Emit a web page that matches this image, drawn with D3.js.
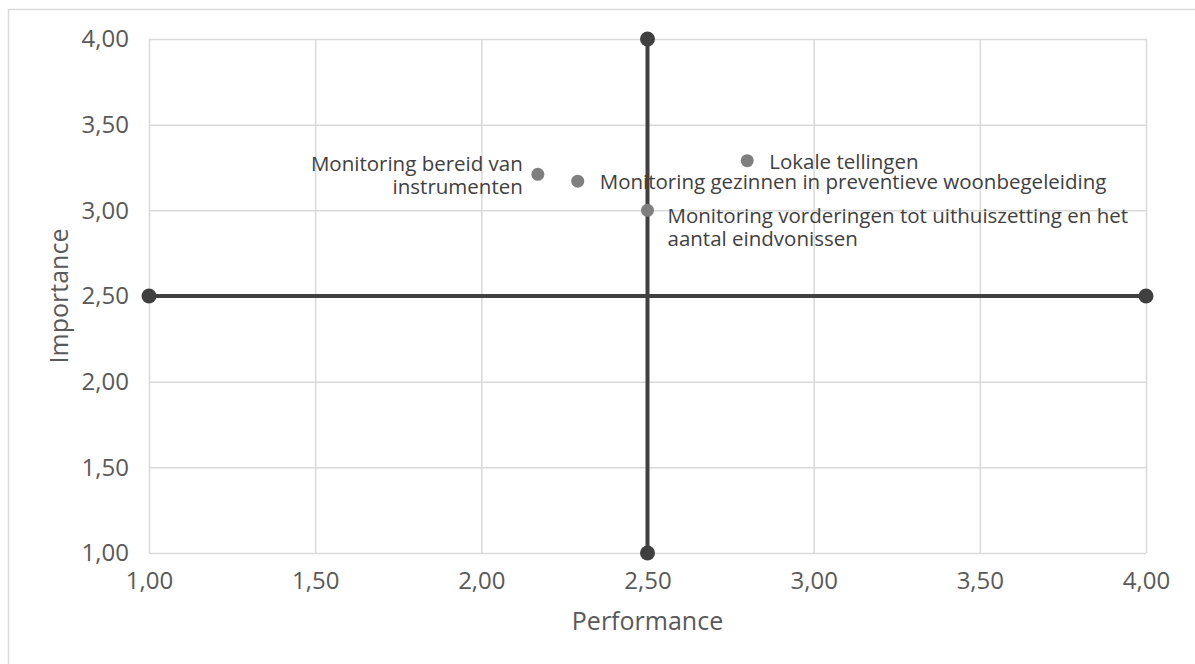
<!DOCTYPE html>
<html>
<head>
<meta charset="utf-8">
<script src="https://cdn.jsdelivr.net/npm/d3@7"></script>
<style>
  html, body { margin: 0; padding: 0; background: #fff; }
  svg { display: block; font-family: "Open Sans", "Noto Sans", sans-serif; }
</style>
</head>
<body>
<svg id="chart" width="1195" height="664"></svg>
<script>
// Performance / importance scores per monitoring item
const itemLabels = [
  ["Monitoring bereid van", "instrumenten"],
  ["Monitoring gezinnen in preventieve woonbegeleiding"],
  ["Monitoring vorderingen tot uithuiszetting en het", "aantal eindvonissen"],
  ["Lokale tellingen"]
];
const performance = [2.17, 2.29, 2.50, 2.80];
const importance  = [3.21, 3.17, 3.00, 3.29];
const labelSide   = ["left", "right", "belowRight", "right"];

// Quadrant divider values and axis ticks
const quadrantX = 2.5;
const quadrantY = 2.5;
const xTicks = [1.0, 1.5, 2.0, 2.5, 3.0, 3.5, 4.0];
const yTicks = [1.0, 1.5, 2.0, 2.5, 3.0, 3.5, 4.0];
const xTitle = "Performance";
const yTitle = "Importance";

const svg = d3.select("#chart");
const W = 1195, H = 664;
const margin = { left: 149, right: 49, top: 39, bottom: 111 };
const plotW = W - margin.left - margin.right;
const plotH = H - margin.top - margin.bottom;

const fmt = v => d3.format(".2f")(v).replace(".", ",");

const x = d3.scaleLinear().domain([1, 4]).range([0, plotW]);
const y = d3.scaleLinear().domain([1, 4]).range([plotH, 0]);

// outer chart frame
svg.append("rect")
  .attr("x", 8.5).attr("y", 9.5)
  .attr("width", W).attr("height", H)
  .attr("fill", "none").attr("stroke", "#d9d9d9").attr("stroke-width", 1.5);

const g = svg.append("g").attr("transform", `translate(${margin.left},${margin.top})`);

// gridlines
const gridColor = "#d9d9d9";
g.append("g")
  .attr("transform", `translate(0,${plotH})`)
  .call(d3.axisBottom(x).tickValues(xTicks).tickSize(-plotH).tickFormat(""))
  .call(a => a.select(".domain").remove())
  .call(a => a.selectAll("line").attr("stroke", gridColor).attr("stroke-width", 1.5));
g.append("g")
  .call(d3.axisLeft(y).tickValues(yTicks).tickSize(-plotW).tickFormat(""))
  .call(a => a.select(".domain").remove())
  .call(a => a.selectAll("line").attr("stroke", gridColor).attr("stroke-width", 1.5));

// tick labels
const tickColor = "#595959";
const xAxis = g.append("g")
  .attr("transform", `translate(0,${plotH})`)
  .call(d3.axisBottom(x).tickValues(xTicks).tickSize(0).tickPadding(19).tickFormat(fmt));
xAxis.select(".domain").remove();
xAxis.selectAll("text")
  .attr("fill", tickColor)
  .style("font-family", "'Open Sans', sans-serif")
  .style("font-size", "24px");

const yAxis = g.append("g")
  .call(d3.axisLeft(y).tickValues(yTicks).tickSize(0).tickPadding(20).tickFormat(fmt));
yAxis.select(".domain").remove();
yAxis.selectAll("text")
  .attr("fill", tickColor)
  .style("font-family", "'Open Sans', sans-serif")
  .style("font-size", "24px");

// axis titles
svg.append("text")
  .attr("x", margin.left + x(2.5)).attr("y", 630)
  .attr("text-anchor", "middle")
  .attr("fill", tickColor)
  .style("font-size", "25px")
  .text(xTitle);
svg.append("text")
  .attr("transform", `translate(68,${margin.top + y(2.5)}) rotate(-90)`)
  .attr("text-anchor", "middle")
  .attr("fill", tickColor)
  .style("font-size", "25px")
  .text(yTitle);

// quadrant dividers with end markers
const divColor = "#404040";
const dividers = [
  [[quadrantX, 1], [quadrantX, 4]],
  [[1, quadrantY], [4, quadrantY]]
];
dividers.forEach(seg => {
  g.append("line")
    .attr("x1", x(seg[0][0])).attr("y1", y(seg[0][1]))
    .attr("x2", x(seg[1][0])).attr("y2", y(seg[1][1]))
    .attr("stroke", divColor).attr("stroke-width", 4);
  g.selectAll(null).data(seg).enter().append("circle")
    .attr("cx", d => x(d[0])).attr("cy", d => y(d[1]))
    .attr("r", 7.5).attr("fill", divColor);
});

// data points
const pts = performance.map((p, i) => ({ p, v: importance[i], lines: itemLabels[i], side: labelSide[i] }));
g.selectAll("circle.pt").data(pts).enter().append("circle")
  .attr("class", "pt")
  .attr("cx", d => x(d.p)).attr("cy", d => y(d.v))
  .attr("r", 6.5).attr("fill", "#7f7f7f");

// point labels
const lineH = 23;
const lab = g.selectAll("text.lab").data(pts).enter().append("text")
  .attr("class", "lab")
  .attr("fill", "#404040")
  .style("font-size", "20.5px")
  .attr("text-anchor", d => d.side === "left" ? "end" : "start")
  .attr("dominant-baseline", "central");
lab.each(function (d) {
  const t = d3.select(this);
  const cx = x(d.p), cy = y(d.v);
  let tx, ty0;
  if (d.side === "left") { tx = cx - 15; ty0 = cy - (d.lines.length - 1) * lineH / 2; }
  else if (d.side === "right") { tx = cx + 22; ty0 = cy - (d.lines.length - 1) * lineH / 2; }
  else { tx = cx + 20; ty0 = cy + 5; }
  d.lines.forEach((ln, k) => {
    t.append("tspan").attr("x", tx).attr("y", ty0 + k * lineH).text(ln);
  });
});
</script>
</body>
</html>
